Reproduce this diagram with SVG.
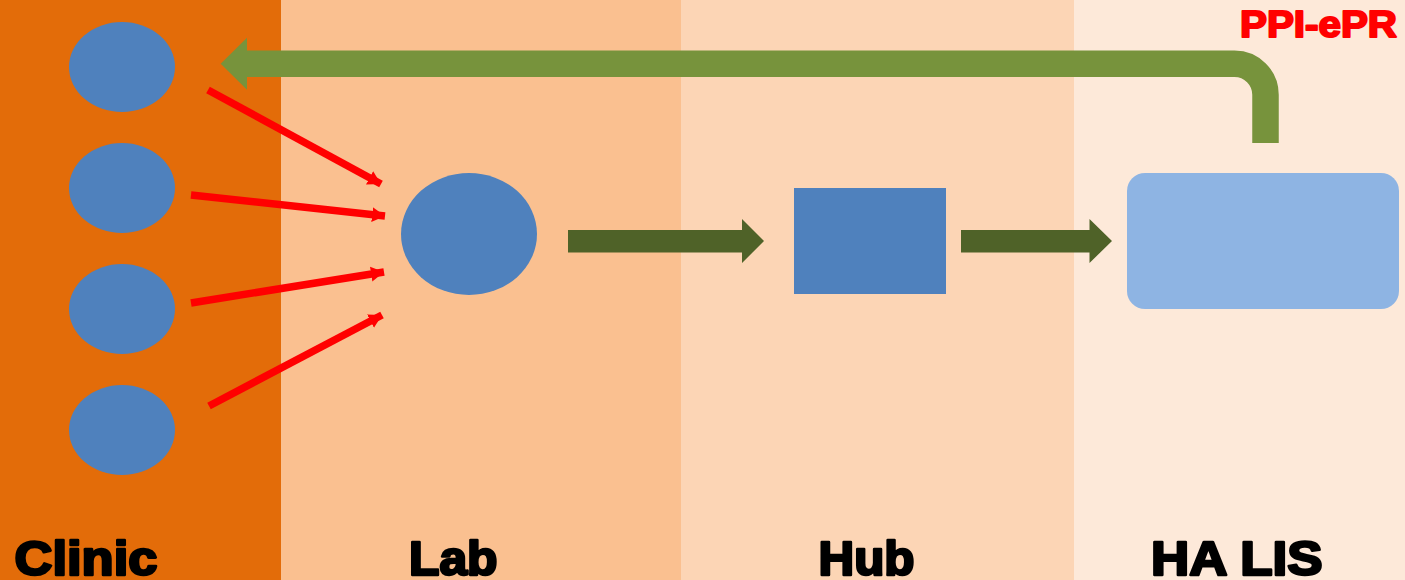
<svg xmlns="http://www.w3.org/2000/svg" width="1405" height="580" viewBox="0 0 1405 580">
<defs>
<style>
.lbl{font-family:"Liberation Sans",Arial,sans-serif;font-weight:bold;font-size:48px;fill:#000;stroke:#000;stroke-width:2.6px;stroke-linejoin:round}
.node{fill:#4F81BD}
.red{stroke:#FF0000;stroke-width:7.5;fill:none;marker-end:url(#rh)}
.dg{fill:#4F6228}
</style>
<marker id="rh" markerUnits="userSpaceOnUse" markerWidth="16" markerHeight="18" refX="13" refY="9" orient="auto">
<path d="M0,1.5 L13,9 L0,16.5 Z" fill="#FF0000"/>
</marker>
</defs>
<g id="lanes">
<rect x="0" y="0" width="281" height="580" fill="#E36C09"/>
<rect x="281" y="0" width="400" height="580" fill="#FAC090"/>
<rect x="681" y="0" width="393" height="580" fill="#FCD5B5"/>
<rect x="1074" y="0" width="331" height="580" fill="#FDE9D9"/>
</g>
<g id="lane-labels">
<text class="lbl" x="14.5" y="574.5" textLength="143" lengthAdjust="spacingAndGlyphs">Clinic</text>
<text class="lbl" x="409" y="574.5" textLength="88.5" lengthAdjust="spacingAndGlyphs">Lab</text>
<text class="lbl" x="818.5" y="574.5" textLength="96" lengthAdjust="spacingAndGlyphs">Hub</text>
<text class="lbl" x="1151" y="574.5" textLength="171.5" lengthAdjust="spacingAndGlyphs">HA LIS</text>
<text x="1240" y="36.5" textLength="157" lengthAdjust="spacingAndGlyphs" style="font-family:'Liberation Sans',Arial,sans-serif;font-weight:bold;font-size:36px;fill:#FF0000;stroke:#FF0000;stroke-width:2px;stroke-linejoin:round">PPI-ePR</text>
</g>
<g id="clinic1"><ellipse class="node" cx="122" cy="67" rx="53" ry="45"/></g>
<g id="clinic2"><ellipse class="node" cx="122" cy="188" rx="53" ry="45"/></g>
<g id="clinic3"><ellipse class="node" cx="122" cy="309" rx="53" ry="45"/></g>
<g id="clinic4"><ellipse class="node" cx="122" cy="430" rx="53" ry="45"/></g>
<g id="lab"><ellipse class="node" cx="469" cy="234" rx="68" ry="61"/></g>
<g id="hub"><rect class="node" x="794" y="188" width="152" height="106"/></g>
<g id="halis"><rect x="1127" y="173" width="272" height="136" rx="18" ry="18" fill="#8EB4E3"/></g>
<g id="connectors">
<line class="red" x1="208" y1="90" x2="381" y2="184"/>
<line class="red" x1="191" y1="195" x2="385" y2="216"/>
<line class="red" x1="191" y1="303" x2="384" y2="272"/>
<line class="red" x1="209" y1="406" x2="382" y2="315"/>
<polygon class="dg" points="568,230 742,230 742,219 764,241 742,263 742,252.5 568,252.5"/>
<polygon class="dg" points="961,230 1089.5,230 1089.5,219 1112,241 1089.5,263 1089.5,252.5 961,252.5"/>
<path d="M1265.5,143 V94.7 A31,31 0 0 0 1234.5,63.7 H246" fill="none" stroke="#77933C" stroke-width="26.5"/>
<polygon points="247,37.7 220.7,63.7 247,89.7" fill="#77933C"/>
</g>
</svg>
